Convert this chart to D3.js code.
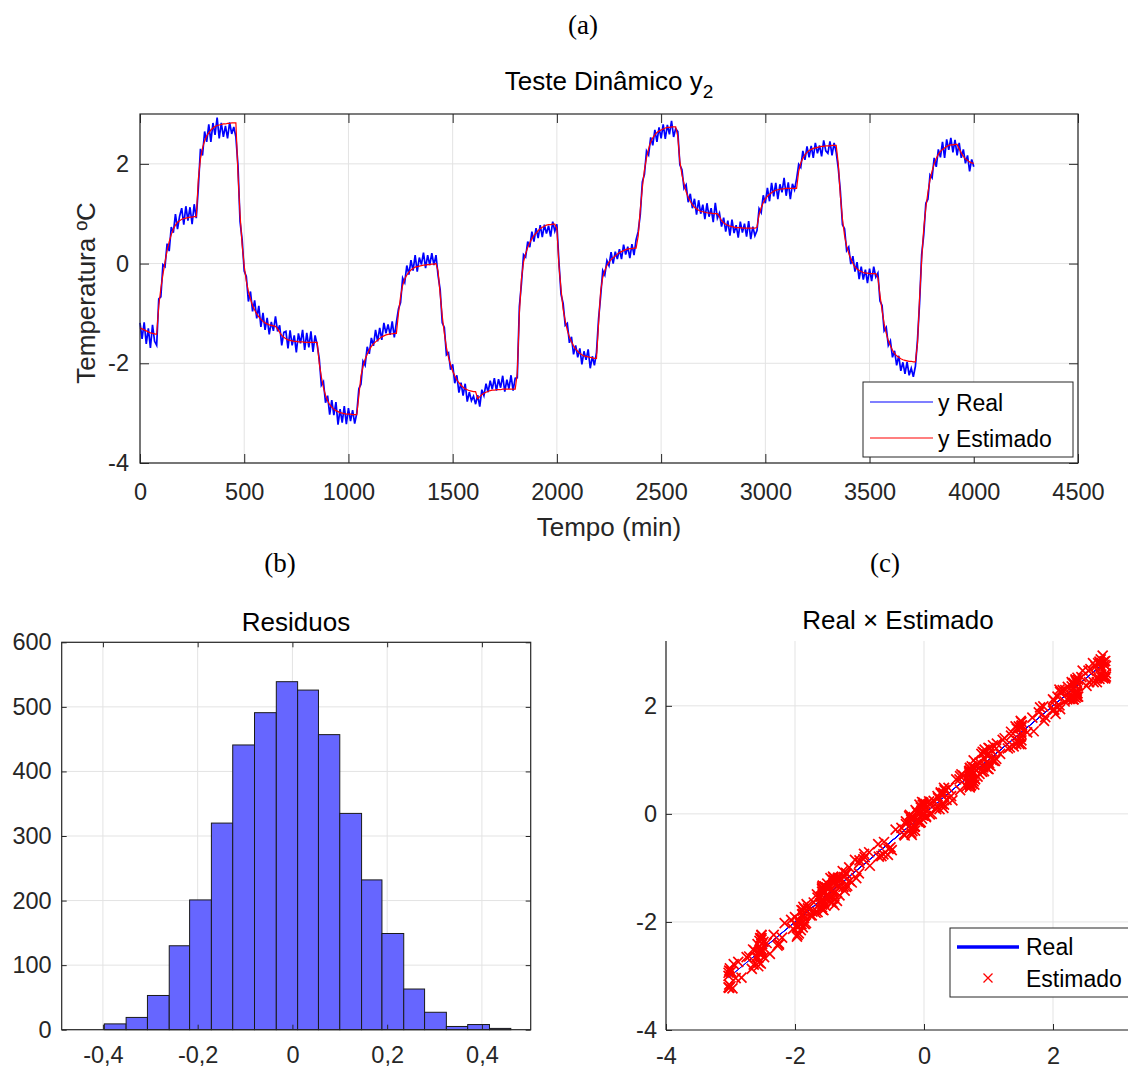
<!DOCTYPE html>
<html>
<head>
<meta charset="utf-8">
<script src="https://cdn.jsdelivr.net/npm/d3@7"></script>
<style>
  body { margin: 0; background: #fff; }
  svg text { font-family: "Liberation Sans", Arial, Helvetica, sans-serif; }
  svg .rotulo { font-family: "Liberation Serif", "DejaVu Serif", serif; }
</style>
</head>
<body>
<div id="container"></div>
<script>
// ---------------- dados ----------------
var passoMin = 10  // amostras a cada 10 min, de 0 a 4000

// y estimado (curva vermelha)
var yEstimado = [
  -1.29, -1.31, -1.33, -1.35, -1.37, -1.39, -1.40, -1.41, -1.42, -0.85,
  -0.50, -0.22, 0.03, 0.26, 0.44, 0.58, 0.69, 0.77, 0.83, 0.86,
  0.89, 0.90, 0.91, 0.92, 0.93, 0.93, 0.94, 0.94, 1.70, 2.10,
  2.32, 2.46, 2.56, 2.62, 2.68, 2.72, 2.75, 2.77, 2.78, 2.79,
  2.80, 2.80, 2.81, 2.81, 2.82, 2.82, 2.82, 1.80, 0.98, 0.38,
  -0.05, -0.35, -0.56, -0.71, -0.84, -0.93, -1.01, -1.07, -1.12, -1.16,
  -1.19, -1.21, -1.23, -1.24, -1.25, -1.26, -1.31, -1.38, -1.44, -1.48,
  -1.51, -1.53, -1.54, -1.55, -1.56, -1.56, -1.57, -1.57, -1.57, -1.58,
  -1.58, -1.58, -1.58, -1.58, -1.58, -1.58, -2.00, -2.27, -2.49, -2.64,
  -2.75, -2.83, -2.88, -2.92, -2.95, -2.97, -2.99, -3.00, -3.01, -3.02,
  -3.02, -3.02, -3.03, -3.03, -3.03, -2.65, -2.25, -2.06, -1.92, -1.82,
  -1.73, -1.66, -1.61, -1.57, -1.54, -1.50, -1.47, -1.45, -1.43, -1.42,
  -1.41, -1.41, -1.40, -1.40, -1.00, -0.66, -0.44, -0.31, -0.23, -0.17,
  -0.13, -0.10, -0.07, -0.06, -0.05, -0.04, -0.03, -0.03, -0.02, -0.02,
  -0.01, -0.01, 0.00, -0.15, -0.62, -1.05, -1.40, -1.68, -1.88, -2.03,
  -2.16, -2.25, -2.33, -2.39, -2.44, -2.48, -2.51, -2.53, -2.55, -2.56,
  -2.57, -2.57, -2.71, -2.67, -2.63, -2.60, -2.58, -2.56, -2.55, -2.54,
  -2.54, -2.53, -2.53, -2.53, -2.52, -2.52, -2.52, -2.52, -2.52, -2.52,
  -2.52, -2.20, -1.00, -0.30, 0.03, 0.20, 0.32, 0.42, 0.50, 0.56,
  0.61, 0.66, 0.70, 0.73, 0.75, 0.77, 0.78, 0.78, 0.79, 0.79,
  0.70, -0.05, -0.52, -0.92, -1.15, -1.34, -1.47, -1.57, -1.65, -1.71,
  -1.76, -1.80, -1.83, -1.85, -1.86, -1.87, -1.88, -1.89, -1.90, -1.90,
  -1.20, -0.55, -0.28, -0.14, -0.04, 0.03, 0.08, 0.12, 0.15, 0.19,
  0.22, 0.24, 0.26, 0.28, 0.29, 0.30, 0.30, 0.31, 0.31, 0.55,
  1.08, 1.52, 1.88, 2.12, 2.30, 2.44, 2.52, 2.58, 2.63, 2.66,
  2.68, 2.70, 2.72, 2.73, 2.73, 2.74, 2.74, 2.74, 2.55, 2.05,
  1.78, 1.60, 1.44, 1.33, 1.25, 1.18, 1.13, 1.10, 1.07, 1.05,
  1.04, 1.03, 1.02, 1.01, 1.01, 1.00, 1.00, 1.00, 0.94, 0.86,
  0.82, 0.79, 0.77, 0.75, 0.74, 0.73, 0.72, 0.72, 0.72, 0.71,
  0.71, 0.71, 0.71, 0.71, 0.71, 0.71, 0.73, 0.98, 1.12, 1.22,
  1.30, 1.35, 1.39, 1.42, 1.45, 1.47, 1.48, 1.49, 1.50, 1.50,
  1.51, 1.51, 1.51, 1.51, 1.51, 1.51, 1.85, 2.02, 2.11, 2.18,
  2.23, 2.27, 2.29, 2.31, 2.32, 2.33, 2.34, 2.35, 2.35, 2.36,
  2.36, 2.36, 2.37, 2.37, 2.37, 2.00, 1.35, 0.90, 0.56, 0.35,
  0.21, 0.09, 0.00, -0.07, -0.11, -0.14, -0.16, -0.18, -0.19, -0.19,
  -0.20, -0.20, -0.20, -0.20, -0.28, -0.63, -0.94, -1.21, -1.40, -1.55,
  -1.65, -1.74, -1.80, -1.85, -1.88, -1.91, -1.93, -1.94, -1.95, -1.96,
  -1.96, -1.97, -1.97, -1.60, -0.70, 0.08, 0.70, 1.12, 1.43, 1.68,
  1.86, 2.00, 2.11, 2.19, 2.25, 2.29, 2.32, 2.35, 2.37, 2.38,
  2.38, 2.39, 2.39, 2.30, 2.22, 2.15, 2.10, 2.07, 2.04, 2.02,
  2.01
]

// y real (curva azul, com ruído)
var yReal = [
  -1.19, -1.51, -1.18, -1.61, -1.30, -1.69, -1.23, -1.56, -1.64, -0.71,
  -0.67, -0.02, -0.06, 0.40, 0.25, 0.73, 0.62, 0.99, 0.69, 0.95,
  1.11, 0.78, 1.15, 0.86, 1.13, 0.79, 1.19, 0.91, 1.53, 2.30,
  2.17, 2.65, 2.44, 2.79, 2.44, 2.82, 2.58, 2.93, 2.51, 2.82,
  2.54, 2.76, 2.51, 2.83, 2.60, 2.74, 2.54, 1.97, 0.84, 0.48,
  -0.15, -0.26, -0.76, -0.56, -0.96, -0.74, -1.10, -0.85, -1.27, -0.99,
  -1.33, -1.09, -1.42, -1.17, -1.35, -1.06, -1.36, -1.24, -1.64, -1.38,
  -1.36, -1.70, -1.34, -1.64, -1.44, -1.78, -1.40, -1.60, -1.33, -1.73,
  -1.39, -1.68, -1.36, -1.77, -1.44, -1.63, -1.91, -2.44, -2.37, -2.79,
  -2.65, -3.03, -2.74, -3.04, -2.78, -3.23, -2.92, -3.19, -2.86, -3.22,
  -2.90, -3.16, -2.94, -3.21, -3.00, -2.51, -2.42, -1.96, -2.04, -1.67,
  -1.81, -1.49, -1.65, -1.33, -1.56, -1.29, -1.53, -1.19, -1.40, -1.22,
  -1.43, -1.16, -1.48, -1.18, -0.91, -0.78, -0.29, -0.38, -0.04, -0.22,
  0.07, -0.14, 0.17, -0.16, 0.12, -0.02, 0.22, -0.09, 0.17, -0.03,
  0.21, -0.03, 0.17, -0.24, -0.52, -1.19, -1.28, -1.83, -1.79, -2.13,
  -2.02, -2.40, -2.24, -2.59, -2.39, -2.65, -2.41, -2.77, -2.58, -2.75,
  -2.66, -2.82, -2.64, -2.87, -2.53, -2.65, -2.41, -2.58, -2.35, -2.52,
  -2.30, -2.55, -2.32, -2.49, -2.25, -2.57, -2.33, -2.51, -2.24, -2.55,
  -2.30, -2.29, -0.86, -0.40, 0.18, 0.13, 0.44, 0.33, 0.64, 0.44,
  0.71, 0.51, 0.77, 0.53, 0.78, 0.60, 0.76, 0.54, 0.84, 0.65,
  0.79, 0.02, -0.62, -0.80, -1.24, -1.20, -1.59, -1.47, -1.82, -1.64,
  -1.88, -1.70, -2.02, -1.76, -1.93, -1.72, -2.10, -1.86, -2.04, -1.78,
  -1.11, -0.65, -0.14, -0.23, 0.06, -0.04, 0.23, 0.00, 0.24, 0.09,
  0.29, 0.09, 0.38, 0.18, 0.34, 0.11, 0.39, 0.17, 0.48, 0.64,
  0.98, 1.64, 1.79, 2.26, 2.18, 2.53, 2.37, 2.68, 2.44, 2.73,
  2.51, 2.79, 2.50, 2.78, 2.59, 2.86, 2.54, 2.71, 2.65, 1.98,
  1.88, 1.51, 1.58, 1.23, 1.40, 1.11, 1.30, 0.98, 1.27, 1.00,
  1.18, 0.89, 1.21, 0.94, 1.11, 0.83, 1.22, 0.91, 1.01, 0.74,
  0.92, 0.64, 0.86, 0.56, 0.88, 0.61, 0.77, 0.52, 0.84, 0.62,
  0.80, 0.54, 0.85, 0.49, 0.74, 0.56, 0.66, 1.10, 1.02, 1.37,
  1.21, 1.52, 1.25, 1.62, 1.35, 1.62, 1.29, 1.59, 1.43, 1.72,
  1.36, 1.63, 1.29, 1.60, 1.48, 1.70, 1.99, 1.93, 2.26, 2.08,
  2.35, 2.13, 2.36, 2.12, 2.42, 2.21, 2.37, 2.15, 2.47, 2.26,
  2.21, 2.45, 2.17, 2.42, 2.23, 1.91, 1.45, 0.78, 0.70, 0.26,
  0.33, -0.01, 0.15, -0.16, 0.03, -0.31, -0.06, -0.32, -0.12, -0.39,
  -0.10, -0.35, -0.06, -0.27, -0.19, -0.75, -0.84, -1.35, -1.28, -1.64,
  -1.55, -1.88, -1.75, -2.04, -1.85, -2.15, -1.98, -2.21, -1.97, -2.24,
  -2.10, -2.27, -2.06, -1.53, -0.79, 0.18, 0.58, 1.21, 1.29, 1.78,
  1.72, 2.12, 1.94, 2.29, 2.13, 2.44, 2.12, 2.49, 2.28, 2.52,
  2.23, 2.48, 2.17, 2.42, 2.12, 2.29, 2.01, 2.17, 1.85, 2.09,
  1.94
]

// histograma dos resíduos
var residuoBordas = [-0.397, -0.351, -0.306, -0.260, -0.217, -0.171, -0.126, -0.080, -0.034, 0.011,
  0.055, 0.100, 0.146, 0.189, 0.235, 0.279, 0.325, 0.370, 0.416, 0.461]
var residuoContagem = [9, 19, 53, 130, 201, 320, 441, 491, 539, 526, 457, 335, 232, 149, 63, 27, 5, 8, 2]

// ticks
var tempoTicks = [0, 500, 1000, 1500, 2000, 2500, 3000, 3500, 4000, 4500]
var temperaturaTicks = [-4, -2, 0, 2]
var residuoTicks = [-0.4, -0.2, 0, 0.2, 0.4]
var contagemTicks = [0, 100, 200, 300, 400, 500, 600]
var dispersaoTicks = [-4, -2, 0, 2]

// ---------------- desenho ----------------
var corTexto = '#262626'
var corGrade = '#e3e3e3'
var fonteTick = 23.5

var fmtInteiro = d => String(d)  // hífen comum, como no original
var fmtResiduo = d => d === 0 ? '0' : String(d).replace('.', ',')

var svg = d3.select('#container')
  .append('svg')
  .attr('width', 1128)
  .attr('height', 1072)

function grade(g, x, y, xt, yt) {
  g.append('g').selectAll('line').data(xt).enter().append('line')
    .attr('x1', d => x(d)).attr('x2', d => x(d))
    .attr('y1', y.range()[0]).attr('y2', y.range()[1])
    .attr('stroke', corGrade).attr('stroke-width', 1)
  g.append('g').selectAll('line').data(yt).enter().append('line')
    .attr('y1', d => y(d)).attr('y2', d => y(d))
    .attr('x1', x.range()[0]).attr('x2', x.range()[1])
    .attr('stroke', corGrade).attr('stroke-width', 1)
}

function estiloEixo(sel) {
  sel.select('.domain').remove()
  sel.selectAll('line').attr('stroke', corTexto)
  sel.selectAll('text')
    .attr('fill', corTexto)
    .style('font-size', fonteTick + 'px')
}

function eixos(g, x, y, xt, yt, opts) {
  var tam = opts.tick
  var bx = g.append('g').attr('transform', 'translate(0,' + y.range()[0] + ')')
    .call(d3.axisBottom(x).tickValues(xt).tickSizeInner(-tam).tickSizeOuter(0)
      .tickPadding(opts.padX).tickFormat(opts.fmtX || fmtInteiro))
  estiloEixo(bx)
  var ly = g.append('g').attr('transform', 'translate(' + x.range()[0] + ',0)')
    .call(d3.axisLeft(y).tickValues(yt).tickSizeInner(-tam).tickSizeOuter(0)
      .tickPadding(opts.padY).tickFormat(opts.fmtY || fmtInteiro))
  estiloEixo(ly)
  if (opts.caixa) {
    var tx = g.append('g').attr('transform', 'translate(0,' + y.range()[1] + ')')
      .call(d3.axisTop(x).tickValues(xt).tickSizeInner(-tam).tickSizeOuter(0).tickFormat(''))
    estiloEixo(tx)
    var ry = g.append('g').attr('transform', 'translate(' + x.range()[1] + ',0)')
      .call(d3.axisRight(y).tickValues(yt).tickSizeInner(-tam).tickSizeOuter(0).tickFormat(''))
    estiloEixo(ry)
    g.append('rect')
      .attr('x', x.range()[0]).attr('y', y.range()[1])
      .attr('width', x.range()[1] - x.range()[0])
      .attr('height', y.range()[0] - y.range()[1])
      .attr('fill', 'none').attr('stroke', corTexto).attr('stroke-width', 1.2)
  } else {
    g.append('line')
      .attr('x1', x.range()[0]).attr('x2', x.range()[1])
      .attr('y1', y.range()[0]).attr('y2', y.range()[0])
      .attr('stroke', corTexto).attr('stroke-width', 1.2)
    g.append('line')
      .attr('x1', x.range()[0]).attr('x2', x.range()[0])
      .attr('y1', y.range()[0]).attr('y2', y.range()[1])
      .attr('stroke', corTexto).attr('stroke-width', 1.2)
  }
}

function rotulo(txt, x, y) {
  svg.append('text').attr('class', 'rotulo')
    .attr('x', x).attr('y', y)
    .attr('text-anchor', 'middle')
    .style('font-size', '27px')
    .attr('fill', '#000')
    .text(txt)
}

// ---- (a) teste dinâmico ----
rotulo('(a)', 583, 34)

var tempo = yReal.map((d, i) => i * passoMin)
var xA = d3.scaleLinear().domain([0, 4500]).range([140, 1078])
var yA = d3.scaleLinear().domain([-4, 3]).range([463, 114])
var gA = svg.append('g')
grade(gA, xA, yA, tempoTicks, temperaturaTicks)

var linha = d3.line()
  .x((d, i) => xA(tempo[i]))
  .y(d => yA(d))

gA.append('path').datum(yReal)
  .attr('d', linha)
  .attr('fill', 'none')
  .attr('stroke', '#0000ff')
  .attr('stroke-width', 1.7)

gA.append('path').datum(yEstimado)
  .attr('d', linha)
  .attr('fill', 'none')
  .attr('stroke', '#ff0000')
  .attr('stroke-width', 1.2)

eixos(gA, xA, yA, tempoTicks, temperaturaTicks, { tick: 9, padX: 20, padY: 11, caixa: true })

var tit = gA.append('text')
  .attr('x', 609).attr('y', 90)
  .attr('text-anchor', 'middle')
  .style('font-size', '26px')
  .attr('fill', '#000')
tit.append('tspan').text('Teste Dinâmico y')
tit.append('tspan').attr('dy', 8).style('font-size', '19px').text('2')

gA.append('text')
  .attr('x', 609).attr('y', 536)
  .attr('text-anchor', 'middle')
  .style('font-size', '26px')
  .attr('fill', corTexto)
  .text('Tempo (min)')

gA.append('text')
  .attr('transform', 'translate(95,293) rotate(-90)')
  .attr('text-anchor', 'middle')
  .style('font-size', '26px')
  .attr('fill', corTexto)
  .text('Temperatura ºC')

// legenda (a)
var legA = gA.append('g')
legA.append('rect')
  .attr('x', 863).attr('y', 382).attr('width', 210).attr('height', 75)
  .attr('fill', '#fff').attr('stroke', corTexto).attr('stroke-width', 1)
var itensA = [{ nome: 'y Real', cor: '#0000ff' }, { nome: 'y Estimado', cor: '#ff0000' }]
itensA.forEach(function (it, i) {
  var yy = 402 + i * 36
  legA.append('line').attr('x1', 870).attr('x2', 933).attr('y1', yy).attr('y2', yy)
    .attr('stroke', it.cor).attr('stroke-width', 1.2)
  legA.append('text').attr('x', 938).attr('y', yy + 9)
    .style('font-size', '23px').attr('fill', '#000').text(it.nome)
})

// ---- (b) resíduos ----
rotulo('(b)', 280, 572)

var xB = d3.scaleLinear().domain([-0.487, 0.503]).range([61.7, 530.7])
var yB = d3.scaleLinear().domain([0, 600]).range([1029.7, 642.3])
var gB = svg.append('g')
grade(gB, xB, yB, residuoTicks, contagemTicks)

gB.append('g').selectAll('rect')
  .data(residuoContagem)
  .enter().append('rect')
  .attr('x', (d, i) => xB(residuoBordas[i]))
  .attr('width', (d, i) => xB(residuoBordas[i + 1]) - xB(residuoBordas[i]))
  .attr('y', d => yB(d))
  .attr('height', d => yB(0) - yB(d))
  .attr('fill', '#6666ff')
  .attr('stroke', '#1a1a1a')
  .attr('stroke-width', 1)

eixos(gB, xB, yB, residuoTicks, contagemTicks, { tick: 5, padX: 17, padY: 10, caixa: true, fmtX: fmtResiduo })

gB.append('text')
  .attr('x', 296).attr('y', 631)
  .attr('text-anchor', 'middle')
  .style('font-size', '26px')
  .attr('fill', '#000')
  .text('Residuos')

// ---- (c) real x estimado ----
rotulo('(c)', 885, 572)

var xC = d3.scaleLinear().domain([-4, 3.2]).range([666, 1130.4])
var yC = d3.scaleLinear().domain([-4, 3.2]).range([1030, 641])
var gC = svg.append('g')
grade(gC, xC, yC, dispersaoTicks, dispersaoTicks)

// linha azul (real) fica por baixo das marcas vermelhas
gC.append('path').datum(yEstimado)
  .attr('d', d3.line().x(d => xC(d)).y(d => yC(d)))
  .attr('fill', 'none')
  .attr('stroke', '#0000ff')
  .attr('stroke-width', 1)

var marca = 'M-5,-5L5,5M-5,5L5,-5'
gC.append('g').selectAll('path')
  .data(yReal)
  .enter().append('path')
  .attr('d', marca)
  .attr('transform', (d, i) => 'translate(' + xC(yEstimado[i]) + ',' + yC(d) + ')')
  .attr('fill', 'none')
  .attr('stroke', '#ff0000')
  .attr('stroke-width', 1.7)

eixos(gC, xC, yC, dispersaoTicks, dispersaoTicks, { tick: 6, padX: 17, padY: 9, caixa: false })

gC.append('text')
  .attr('x', 898).attr('y', 629)
  .attr('text-anchor', 'middle')
  .style('font-size', '26px')
  .attr('fill', '#000')
  .text('Real × Estimado')

// legenda (c)
var legC = gC.append('g')
legC.append('rect')
  .attr('x', 950).attr('y', 928).attr('width', 200).attr('height', 69)
  .attr('fill', '#fff').attr('stroke', corTexto).attr('stroke-width', 1)
legC.append('line').attr('x1', 957).attr('x2', 1019).attr('y1', 947).attr('y2', 947)
  .attr('stroke', '#0000ff').attr('stroke-width', 3.5)
legC.append('path').attr('d', 'M-4.5,-4.5L4.5,4.5M-4.5,4.5L4.5,-4.5')
  .attr('transform', 'translate(988,978)')
  .attr('fill', 'none').attr('stroke', '#ff0000').attr('stroke-width', 1.3)
legC.append('text').attr('x', 1026).attr('y', 955)
  .style('font-size', '23px').attr('fill', '#000').text('Real')
legC.append('text').attr('x', 1026).attr('y', 987)
  .style('font-size', '23px').attr('fill', '#000').text('Estimado')
</script>
</body>
</html>
